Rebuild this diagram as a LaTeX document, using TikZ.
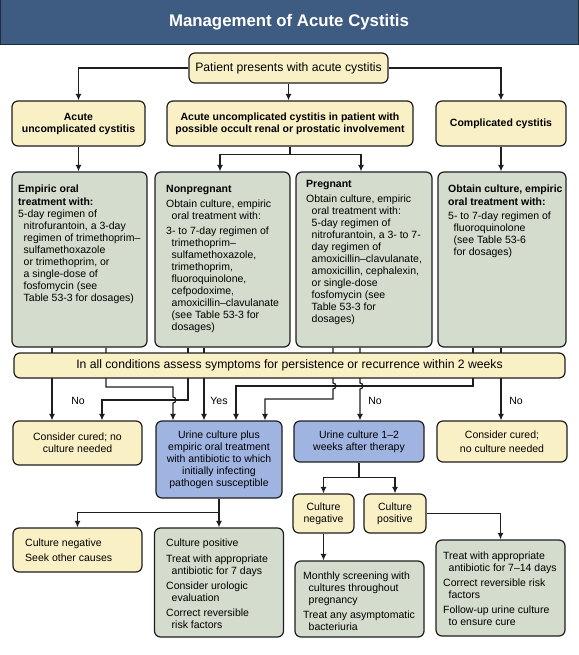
\documentclass[tikz,border=0pt]{standalone}
\usepackage{fontspec}
\setmainfont{Liberation Sans}
\usetikzlibrary{arrows.meta,calc}
\definecolor{titleblue}{RGB}{62,92,130}
\definecolor{titleedge}{RGB}{28,45,62}
\definecolor{boxyel}{RGB}{250,240,198}
\definecolor{boxgrn}{RGB}{212,220,205}
\definecolor{boxblu}{RGB}{160,180,226}
\definecolor{edge}{RGB}{30,30,30}
\newcommand{\ind}{\hspace*{5.5pt}}
\tikzset{
  box/.style={draw=edge, line width=1.2pt, rounded corners=6pt, inner sep=0pt, align=center, font=\fontsize{10.5}{12}\selectfont},
  ybox/.style={box, fill=boxyel},
  gbox/.style={box, fill=boxgrn},
  bbox/.style={box, fill=boxblu},
  hbox/.style={ybox, font=\bfseries\fontsize{10.5}{12}\selectfont},
  conn/.style={draw=edge, line width=1.2pt},
  arr/.style={conn, -{Latex[length=6.5pt,width=6pt]}},
  body/.style={anchor=north west, inner sep=0pt, align=left, font=\fontsize{10.5}{12}\selectfont},
  lbl/.style={inner sep=0pt, font=\fontsize{10.5}{12}\selectfont},
}
\begin{document}
\begin{tikzpicture}[x=1pt,y=-1pt]
\useasboundingbox (0,0) rectangle (578,655);
\fill[white] (0,0) rectangle (578,655);
% title
\node[draw=titleedge, line width=1pt, fill=titleblue, minimum width=578pt, minimum height=45pt, inner sep=0pt,
      text=white, font=\bfseries\fontsize{16.8}{19}\selectfont] (title) at (289,22.5) {Management of Acute Cystitis};
% row 1, 2
\node[ybox, minimum width=199pt, minimum height=30pt, font=\fontsize{12.2}{14}\selectfont] (p) at (288.5,68) {Patient presents with acute cystitis};
\node[hbox, minimum width=133pt, minimum height=45pt] (a1) at (78.5,123.5) {Acute\\uncomplicated cystitis};
\node[hbox, minimum width=246pt, minimum height=45pt] (a2) at (290,123.5) {Acute uncomplicated cystitis in patient with\\possible occult renal or prostatic involvement};
\node[hbox, minimum width=130pt, minimum height=45pt] (a3) at (501,123.5) {Complicated cystitis};
% row 3
\node[gbox, minimum width=135pt, minimum height=175pt] (e1) at (79.5,259.5) {};
\node[gbox, minimum width=135pt, minimum height=175pt] (e2) at (222.5,259.5) {};
\node[gbox, minimum width=136pt, minimum height=175pt] (e3) at (364,259.5) {};
\node[gbox, minimum width=128pt, minimum height=175pt] (e4) at (502,259.5) {};
\node[body] (e1t) at (18,184.3) {\strut\textbf{Empiric oral}\\[1pt]
\textbf{treatment with:}\\
5-day regimen of\\
\ind nitrofurantoin, a 3-day\\
\ind regimen of trimethoprim–\\
\ind sulfamethoxazole\\
\ind or trimethoprim, or\\
\ind a single-dose of\\
\ind fosfomycin (see\\
\ind Table 53-3 for dosages)};
\node[body] (e2t) at (166,184.3) {\strut\textbf{Nonpregnant}\\[3pt]
Obtain culture, empiric\\
\ind oral treatment with:\\[3pt]
3- to 7-day regimen of\\
\ind trimethoprim–\\
\ind sulfamethoxazole,\\
\ind trimethoprim,\\
\ind fluoroquinolone,\\
\ind cefpodoxime,\\
\ind amoxicillin–clavulanate\\
\ind (see Table 53-3 for\\
\ind dosages)};
\node[body] (e3t) at (306,179.3) {\strut\textbf{Pregnant}\\[3pt]
Obtain culture, empiric\\
\ind oral treatment with:\\
\ind 5-day regimen of\\
\ind nitrofurantoin, a 3- to 7-\\
\ind day regimen of\\
\ind amoxicillin–clavulanate,\\
\ind amoxicillin, cephalexin,\\
\ind or single-dose\\
\ind fosfomycin (see\\
\ind Table 53-3 for\\
\ind dosages)};
\node[body] (e4t) at (448,184.3) {\strut\textbf{Obtain culture, empiric}\\[1pt]
\textbf{oral treatment with:}\\[2pt]
5- to 7-day regimen of\\
\ind fluoroquinolone\\
\ind (see Table 53-6\\
\ind for dosages)};
% row 4
\node[ybox, minimum width=129pt, minimum height=44pt] (c1) at (77.5,443) {Consider cured; no\\culture needed};
\node[bbox, minimum width=126pt, minimum height=77pt] (u1) at (219,459.5) {Urine culture plus\\empiric oral treatment\\with antibiotic to which\\initially infecting\\pathogen susceptible};
\node[bbox, minimum width=130pt, minimum height=41pt] (u2) at (359,441.5) {Urine culture 1–2\\weeks after therapy};
\node[ybox, minimum width=130pt, minimum height=41pt] (c2) at (502,441.5) {Consider cured;\\[2pt]no culture needed};
% connectors top
\draw[arr] (p.west) -| (a1.north);
\draw[arr] (p.east) -| (a3.north);
\draw[arr] (p.south) -- (p.south |- a2.north);
\draw[arr] (a1.south) -- (a1.south |- e1.north);
\draw[arr] (a3.south) -- (a3.south |- e4.north);
\draw[conn] (a2.south) -- ++(0,8) coordinate (j1);
\draw[arr] (j1) -| ([xshift=-2.5pt]e2.north);
\draw[arr] (j1) -| ([xshift=-3pt]e3.north);
% connectors through the assessment bar
\draw[arr] ([xshift=-27.5pt]e1.south) -- ([xshift=-27.5pt]e1.south |- c1.north);
\draw[arr] ([xshift=26.5pt]e1.south) |- (173,387) -- (173,397) arc[start angle=-90,end angle=90,radius=3] -- ([xshift=-46pt]u1.north);
\draw[arr] ([xshift=-34.5pt]e2.south) |- (102,400) -- ([xshift=24.5pt]c1.north);
\draw[arr] ([xshift=-18.5pt]e2.south) -- ([xshift=-18.5pt]e2.south |- u1.north);
\draw[arr] ([xshift=-31pt]e3.south) -- (333,383) arc[start angle=-90,end angle=90,radius=3] -- (333,399) -| ([xshift=46pt]u1.north);
\draw[arr] ([xshift=-4pt]e3.south) -- (360,383) arc[start angle=-90,end angle=90,radius=3] -- ([xshift=-4pt]e3.south |- u2.north);
\draw[arr] ([xshift=-29pt]e4.south) |- (236,386) -- ([xshift=17pt]u1.north);
\draw[arr] ([xshift=-1pt]e4.south) -- ([xshift=-1pt]e4.south |- c2.north);
\node[ybox, minimum width=551pt, minimum height=25pt, font=\fontsize{12.2}{14}\selectfont] (bar) at (289.5,365.5) {In all conditions assess symptoms for persistence or recurrence within 2 weeks};
\node[lbl] (no1) at (78,401) {No};
\node[lbl] (yes1) at (219,401) {Yes};
\node[lbl] (no2) at (375,401) {No};
\node[lbl] (no3) at (516,401) {No};
% row 5
\node[ybox, minimum width=129pt, minimum height=44pt] (n1) at (77.5,550) {};
\node[body] (n1t) at (25,538.3) {\strut Culture negative\\[3pt]Seek other causes};
\node[gbox, minimum width=129pt, minimum height=109pt] (p1) at (219,582.5) {};
\node[body] (p1t) at (166,538.3) {\strut Culture positive\\[4pt]
Treat with appropriate\\
\ind antibiotic for 7 days\\[3pt]
Consider urologic\\
\ind evaluation\\[3pt]
Correct reversible\\
\ind risk factors};
\node[ybox, minimum width=61pt, minimum height=39pt] (cn) at (323.5,513.5) {Culture\\negative};
\node[ybox, minimum width=62pt, minimum height=39pt] (cp) at (395,513.5) {Culture\\positive};
\node[gbox, minimum width=129pt, minimum height=76pt] (m1) at (359.5,599) {};
\node[body] (m1t) at (303,571.3) {\strut Monthly screening with\\
\ind cultures throughout\\
\ind pregnancy\\[3pt]
Treat any asymptomatic\\
\ind bacteriuria};
\node[gbox, minimum width=129pt, minimum height=96pt] (t1) at (500.5,588) {};
\node[body] (t1t) at (443,551.3) {\strut Treat with appropriate\\
\ind antibiotic for 7–14 days\\[3pt]
Correct reversible risk\\
\ind factors\\[3pt]
Follow-up urine culture\\
\ind to ensure cure};
% bottom connectors
\draw[conn] (u1.south) -- ++(0,14) coordinate (j4);
\draw[arr] (j4) -| (n1.north);
\draw[arr] (j4) -- (p1.north);
\draw[conn] (u2.south) -- ++(0,15) coordinate (j3);
\draw[arr] (j3) -| (cn.north);
\draw[arr] (j3) -| (cp.north);
\draw[arr] (cn.south) -- (cn.south |- m1.north);
\draw[arr] (cp.east) -| (t1.north);
\end{tikzpicture}
\end{document}
